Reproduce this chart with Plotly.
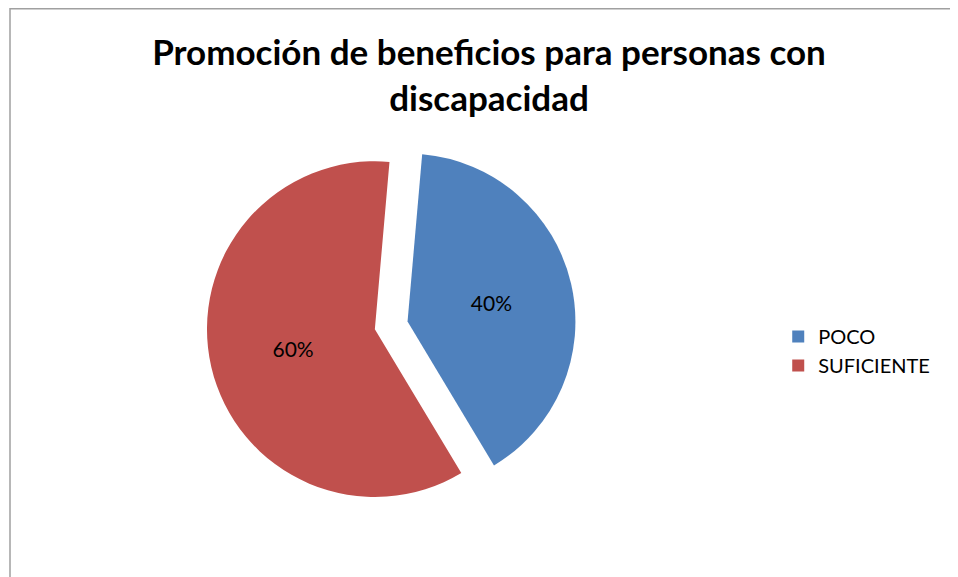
import plotly.graph_objects as go

categories = ["POCO", "SUFICIENTE"]
values = [40, 60]
colors = ["#4F81BD", "#C0504D"]
title_text = "Promoción de beneficios para personas con<br>discapacidad"

W, H = 958, 577
OFF = 8  # page body offset

fig = go.Figure(go.Pie(
    labels=categories,
    values=values,
    marker=dict(colors=colors, line=dict(width=0)),
    sort=False,
    direction="clockwise",
    rotation=5,
    pull=[0.1, 0.1],
    textinfo="percent",
    texttemplate="%{percent:.0%}",
    textposition="inside",
    insidetextfont=dict(color="#000000", size=21, family="Lato, Open Sans, sans-serif"),
    domain=dict(x=[0.07, 0.73], y=[0.13, 0.77]),
    hoverinfo="label+percent",
))

fig.update_layout(
    width=W, height=H,
    paper_bgcolor="white",
    plot_bgcolor="white",
    margin=dict(l=0, r=0, t=0, b=0),
    title=dict(
        text="<b>" + title_text + "</b>",
        x=(489 - OFF) / W, xanchor="center",
        y=1 - 57 / H, yanchor="middle",
        font=dict(family="Lato, Open Sans, sans-serif", size=35, color="#000000"),
    ),
    legend=dict(
        x=0.804, y=1 - 343 / H, xanchor="left", yanchor="middle",
        font=dict(family="Lato, Open Sans, sans-serif", size=20, color="#000000"),
        bgcolor="rgba(0,0,0,0)",
    ),
    showlegend=True,
    shapes=[dict(
        type="rect", xref="paper", yref="paper",
        x0=2 / W, y0=-0.05, x1=943 / W, y1=1 - 0.8 / H,
        line=dict(color="#A0A0A0", width=1.5),
        fillcolor="rgba(0,0,0,0)", layer="below",
    )],
)

fig.write_html("out.html")
